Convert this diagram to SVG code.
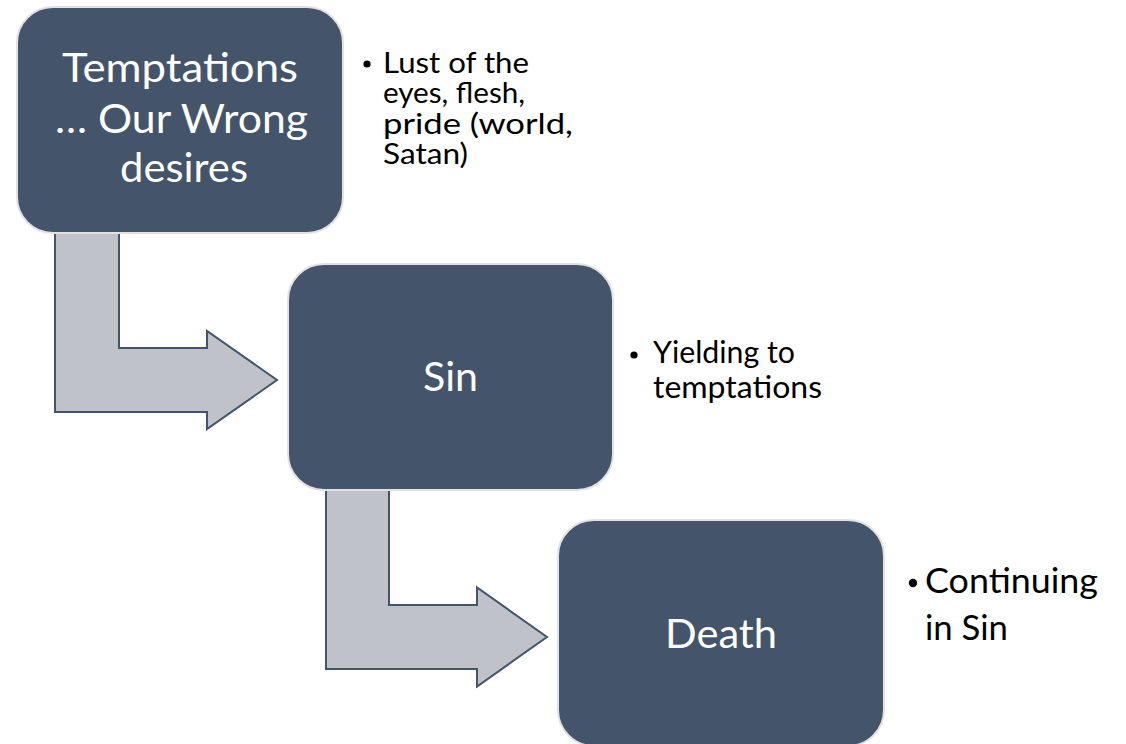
<svg xmlns="http://www.w3.org/2000/svg" width="1126" height="744" viewBox="0 0 1126 744">
<style>
.box{fill:#44546A;stroke:#E2E2E2;stroke-width:2}
.arrow{fill:#BFC3C9;stroke:#44546A;stroke-width:2;stroke-linejoin:miter}
.bt{font-family:Lato,"Open Sans","Liberation Sans",sans-serif;fill:#FFFFFF;text-anchor:middle;font-size:41px}
.lt{font-family:Lato,"Open Sans","Liberation Sans",sans-serif;fill:#000000;font-size:30.5px}
.lt1{font-size:28.5px}
.lt3{font-size:35px}
.dot{fill:#000000}
</style>
<rect width="1126" height="744" fill="#FFFFFF"/>
<g id="connectors">
<polygon class="arrow" points="55,226 119,226 119,348 207,348 207,331 277,380 207,429 207,412 55,412"/>
<polygon class="arrow" points="326,483 389,483 389,605 477,605 477,587.5 547,637 477,686.5 477,669 326,669"/>
</g>
<g id="node-temptations">
<rect class="box" x="17" y="7" width="326" height="226" rx="36" ry="36"/>
<text class="bt" x="180" y="82" textLength="236" lengthAdjust="spacingAndGlyphs">Temptations</text>
<text class="bt" x="181.5" y="133" textLength="253" lengthAdjust="spacingAndGlyphs">… Our Wrong</text>
<text class="bt" x="184" y="182" textLength="128" lengthAdjust="spacingAndGlyphs">desires</text>
</g>
<g id="node-sin">
<rect class="box" x="288" y="264" width="325" height="226" rx="36" ry="36"/>
<text class="bt" x="450.5" y="391" textLength="55" lengthAdjust="spacingAndGlyphs">Sin</text>
</g>
<g id="node-death">
<rect class="box" x="558" y="520" width="326" height="226" rx="36" ry="36"/>
<text class="bt" x="721" y="648" textLength="112" lengthAdjust="spacingAndGlyphs">Death</text>
</g>
<g id="note-temptations">
<circle class="dot" cx="367" cy="64" r="3.6"/>
<text class="lt lt1" x="383" y="73" textLength="146" lengthAdjust="spacingAndGlyphs">Lust of the</text>
<text class="lt lt1" x="383" y="103" textLength="142" lengthAdjust="spacingAndGlyphs">eyes, flesh,</text>
<text class="lt lt1" x="383" y="134" textLength="190" lengthAdjust="spacingAndGlyphs">pride (world,</text>
<text class="lt lt1" x="383" y="164" textLength="85" lengthAdjust="spacingAndGlyphs">Satan)</text>
</g>
<g id="note-sin">
<circle class="dot" cx="634" cy="355" r="3.6"/>
<text class="lt" x="653" y="363" textLength="142" lengthAdjust="spacingAndGlyphs">Yielding to</text>
<text class="lt" x="653" y="398" textLength="169" lengthAdjust="spacingAndGlyphs">temptations</text>
</g>
<g id="note-death">
<circle class="dot" cx="913" cy="583" r="4.2"/>
<text class="lt lt3" x="925" y="593" textLength="173" lengthAdjust="spacingAndGlyphs">Continuing</text>
<text class="lt lt3" x="925" y="640" textLength="83" lengthAdjust="spacingAndGlyphs">in Sin</text>
</g>
</svg>
